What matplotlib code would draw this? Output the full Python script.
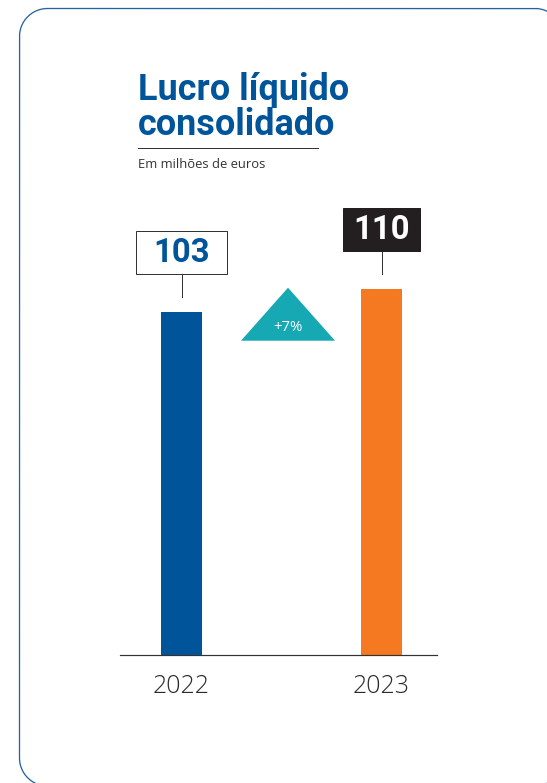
import matplotlib
matplotlib.use("Agg")
import numpy as np
import matplotlib.pyplot as plt
from matplotlib.patches import Rectangle, Polygon
from matplotlib.transforms import Affine2D, ScaledTranslation
from matplotlib.lines import Line2D

# ---- data ----
years = ["2022", "2023"]
values = [103, 110]
bar_colors = ["#00559a", "#f47920"]
title_lines = ["Lucro líquido", "consolidado"]
subtitle = "Em milhões de euros"

W, H = 547, 783
DPI = 72
fig = plt.figure(figsize=(W / DPI, H / DPI), dpi=DPI)

TITLE_FONT = ["Roboto", "DejaVu Sans"]
BODY_FONT = ["Open Sans", "DejaVu Sans"]
BLUE = "#00559a"

# overlay axes in pixel coordinates for the card frame and title
ov = fig.add_axes([0, 0, 1, 1])
ov.set_xlim(0, W)
ov.set_ylim(H, 0)
ov.axis("off")

# rounded card outline (extends past right and bottom edges)
L, T, R, B, r = 19.5, 8.5, 563.0, 786.0, 28.0
def arc(cx, cy, a0, a1):
    t = np.radians(np.linspace(a0, a1, 40))
    return cx + r * np.cos(t), cy - r * np.sin(t)
segs = []
ax_, ay_ = arc(L + r, B - r, 270, 180)   # bottom-left (y down => flip)
px = [L + r * np.cos(np.radians(a)) + 0 for a in []]
pts_x, pts_y = [], []
# bottom-left corner, going up the left side, top-left corner, top edge, top-right corner
for cx, cy, a0, a1 in [(L + r, B - r, 180, 90), (L + r, T + r, 90, 0), (R - r, T + r, 0, -90), (R - r, B - r, -90, -180)]:
    pass
def corner(cx, cy, a0, a1):
    t = np.radians(np.linspace(a0, a1, 40))
    return list(cx + r * np.cos(t)), list(cy + r * np.sin(t))
xs_c, ys_c = [], []
for cx, cy, a0, a1 in [(L + r, B - r, 90, 180), (L + r, T + r, 180, 270),
                       (R - r, T + r, 270, 360), (R - r, B - r, 0, 90)]:
    cx_, cy_ = corner(cx, cy, a0, a1)
    xs_c += cx_
    ys_c += cy_
xs_c.append(xs_c[0]); ys_c.append(ys_c[0])
ov.plot(xs_c, ys_c, color="#2363a3", lw=1.3, solid_capstyle="round")

ov.text(138, 100, title_lines[0], fontsize=36, fontweight="bold", color=BLUE,
        family=TITLE_FONT, va="baseline", ha="left")
ov.text(138, 135, title_lines[1], fontsize=36, fontweight="bold", color=BLUE,
        family=TITLE_FONT, va="baseline", ha="left")
ov.plot([138, 318], [148, 148], color="#333333", lw=1.0)
ov.text(138, 168, subtitle, fontsize=13, color="#333333",
        family=BODY_FONT, va="baseline", ha="left")

# bar axes
x0, x1, yb, yt = 120, 437, 655, 200
ax = fig.add_axes([x0 / W, (H - yb) / H, (x1 - x0) / W, (yb - yt) / H])
ax.patch.set_alpha(0)
pxu = 200.0
ax.set_xlim(-(181.5 - x0) / pxu, 1 + (x1 - 381.5) / pxu)
ax.set_ylim(0, (yb - yt) / 3.33)
xs = list(range(len(years)))
ax.bar(xs, values, width=41 / pxu, color=bar_colors, zorder=2)
for s in ["top", "right", "left"]:
    ax.spines[s].set_visible(False)
ax.spines["bottom"].set_color("#333333")
ax.spines["bottom"].set_linewidth(1.2)
ax.set_yticks([])
ax.set_xticks(xs)
ax.set_xticklabels(years, fontsize=25, color="#2b2b2b", family=BODY_FONT,
                   fontweight="light")
ax.tick_params(axis="x", length=0, pad=19)

# value labels with connectors
box_styles = [dict(fc="white", ec="#333333", tc=BLUE, w=91),
              dict(fc="#231f20", ec="#231f20", tc="white", w=77)]
for x, v, st in zip(xs, values, box_styles):
    off = ScaledTranslation(x, v, ax.transData)
    tr = Affine2D() + off
    ln = Line2D([0, 0], [15, 38], color="#333333", lw=1.0, transform=tr)
    ln.set_clip_on(False)
    ax.add_line(ln)
    box = Rectangle((-st["w"] / 2, 38), st["w"], 43, fc=st["fc"], ec=st["ec"], lw=1.0,
                    transform=tr, zorder=4)
    box.set_clip_on(False)
    ax.add_patch(box)
    ax.text(0, 59, str(v), transform=tr, ha="center", va="center", fontsize=33,
            fontweight="bold", color=st["tc"], family=TITLE_FONT, zorder=5)

# growth triangle between bars
growth = round((values[1] / values[0] - 1) * 100)
mid = (xs[0] + xs[1]) / 2
tr = Affine2D().translate(6.5, 0) + ScaledTranslation(mid, values[1], ax.transData)
tri = Polygon([(-47, -52), (47, -52), (0, 1)], closed=True, fc="#16a9b3", ec="none",
              transform=tr, zorder=3)
tri.set_clip_on(False)
ax.add_patch(tri)
ax.text(0, -39, f"+{growth}%", transform=tr, ha="center", va="center",
        fontsize=15, color="white", family=BODY_FONT, zorder=4)

fig.savefig("out.png", dpi=DPI)
